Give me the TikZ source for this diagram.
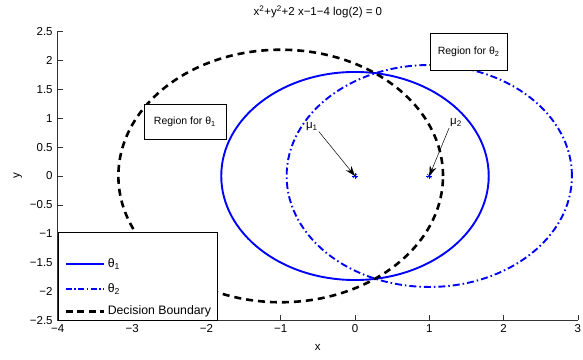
\documentclass[tikz,border=0pt]{standalone}
\usepackage{fontspec}
\setmainfont{Liberation Sans}
\usetikzlibrary{arrows.meta}
\tikzset{
  axisline/.style={line width=0.6pt, black!80},
  thetaone/.style={blue, line width=1.9pt},
  thetatwo/.style={blue, line width=1.9pt, dash pattern=on 7pt off 3pt on 1.5pt off 3pt},
  boundary/.style={black, line width=2.6pt, dash pattern=on 7pt off 5pt},
  regionbox/.style={draw, fill=white, line width=0.6pt, font=\fontsize{10.5}{12}\selectfont},
  legendtext/.style={anchor=west, inner sep=0pt, font=\fontsize{12.3}{14}\selectfont},
  meanpt/.style={inner sep=0pt, minimum size=6pt},
  meanlbl/.style={inner sep=1pt},
  pointer/.style={-{Stealth[length=10pt, width=7pt]}, line width=0.5pt},
}

\begin{document}
\begin{tikzpicture}[x=74.3pt, y=57.8pt, font=\fontsize{11.5}{14}\selectfont]
\useasboundingbox (-4.778,-3.183) rectangle (3.069,3.045);

% class circles and decision boundary
\draw[thetaone] (0,0) circle [radius=1.8];
\draw[thetatwo] (1,0) circle [radius=1.92];
\draw[boundary] (-1,0) circle [radius=2.1847];

% axes (box off)
\draw[axisline] (-4,2.5) -- (-4,-2.5) -- (3,-2.5);
\foreach \yy/\lbl in {-2.5/−2.5,-2/−2,-1.5/−1.5,-1/−1,-0.5/−0.5,0/0,0.5/0.5,1/1,1.5/1.5,2/2,2.5/2.5}{
  \draw[axisline] (-4,\yy) -- ++(5pt,0);
  \node[anchor=east, inner xsep=5pt, inner ysep=1pt] at (-4,\yy) {\lbl};
}
\foreach \xx/\lbl in {-4/−4,-3/−3,-2/−2,-1/−1,0/0,1/1,2/2,3/3}{
  \draw[axisline] (\xx,-2.5) -- ++(0,5pt);
  \node[anchor=north, inner xsep=1pt, inner ysep=4pt] at (\xx,-2.5) {\lbl};
}
\node (title) at (-0.5,2.84) {x\textsuperscript{2}+y\textsuperscript{2}+2 x−1−4 log(2) = 0};
\node (xlabel) at (-0.5,-2.96) {x};
\node[rotate=90] (ylabel) at (-4.54,0) {y};

% means
\node[meanpt] (mean1) at (0,0) {};
\node[meanpt] (mean2) at (1,0) {};
\foreach \m in {mean1,mean2}{
  \foreach \a in {0,45,90,135}{
    \draw[blue, line width=0.6pt] (\m.center) ++(\a:3pt) -- ++(\a+180:6pt);
  }
}
\node[meanlbl] (mu1) at (-0.58,0.86) {μ\textsubscript{1}};
\node[meanlbl] (mu2) at (1.36,0.92) {μ\textsubscript{2}};
\draw[pointer] (mu1.south east) -- (mean1.center);
\draw[pointer] (mu2.south west) -- (mean2.center);

% region labels
\node[regionbox, minimum width=77pt, minimum height=37pt] (region2) at (1.53,2.15) {Region for θ\textsubscript{2}};
\node[regionbox, minimum width=82pt, minimum height=35pt] (region1) at (-2.29,0.93) {Region for θ\textsubscript{1}};

% legend
\node[draw, fill=white, line width=0.6pt, anchor=north west, minimum width=159pt, minimum height=88pt, inner sep=0pt] (legend) at (-4,-0.965) {};
\draw[thetaone] (-3.89,-1.52) -- (-3.38,-1.52);
\node[legendtext] (leg1) at (-3.33,-1.52) {θ\textsubscript{1}};
\draw[thetatwo, dash pattern=on 6pt off 2.5pt on 1.5pt off 2.5pt] (-3.89,-1.955) -- (-3.38,-1.955);
\node[legendtext] (leg2) at (-3.33,-1.955) {θ\textsubscript{2}};
\draw[boundary, dash pattern=on 7pt off 4.5pt] (-3.89,-2.34) -- (-3.38,-2.34);
\node[legendtext] (leg3) at (-3.33,-2.34) {Decision Boundary};
\end{tikzpicture}
\end{document}
